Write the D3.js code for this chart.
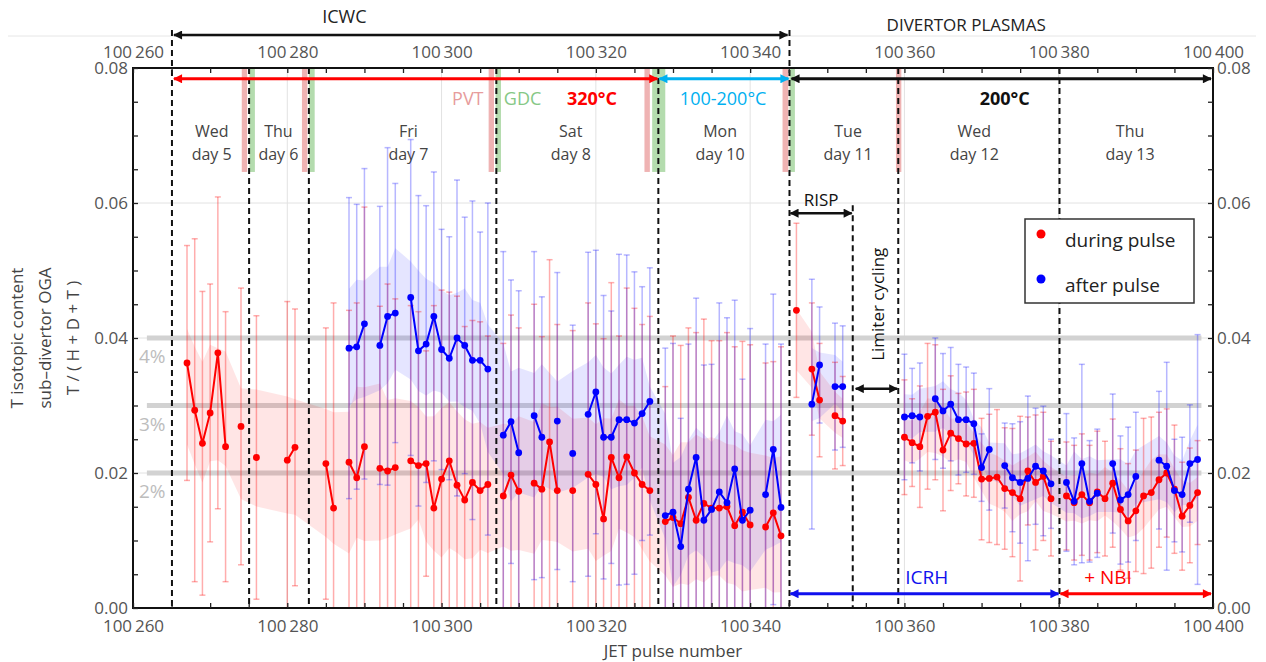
<!DOCTYPE html>
<html>
<head>
<meta charset="utf-8">
<script src="https://cdn.jsdelivr.net/npm/d3@7"></script>
<style>
  body { margin: 0; background: #fff; }
  svg { font-family: 'Open Sans', sans-serif; }
</style>
</head>
<body>
<svg id="chart" width="1266" height="662"></svg>
<script>
// T isotopic content, "during pulse" (red)
const duringPulse = [100267, 100268, 100269, 100270, 100271, 100272, 100274, 100276, 100280, 100281,
  100285, 100286, 100288, 100289, 100290, 100292, 100293, 100294, 100296, 100297, 100298, 100299,
  100300, 100301, 100302, 100303, 100304, 100305, 100306, 100308, 100309, 100310, 100312, 100313,
  100314, 100315, 100317, 100319, 100320, 100321, 100322, 100323, 100324, 100325, 100326, 100327,
  100329, 100330, 100331, 100332, 100333, 100334, 100335, 100336, 100337, 100338, 100339, 100340,
  100342, 100343, 100344, 100346, 100348, 100349, 100351, 100352, 100360, 100361, 100362, 100363,
  100364, 100365, 100366, 100367, 100368, 100369, 100370, 100371, 100372, 100373, 100374, 100375,
  100376, 100377, 100378, 100379, 100381, 100382, 100383, 100384, 100385, 100386, 100387, 100388,
  100389, 100390, 100391, 100392, 100393, 100394, 100395, 100396, 100397, 100398]
const duringT = [0.0363, 0.0293, 0.0244, 0.0289, 0.0378, 0.0239, 0.0269, 0.0223, 0.0219, 0.0238,
  0.0214, 0.0148, 0.0216, 0.0193, 0.0239, 0.0207, 0.0203, 0.0208, 0.0218, 0.0211, 0.0214, 0.0148,
  0.0191, 0.0218, 0.0182, 0.0160, 0.0186, 0.0174, 0.0183, 0.0166, 0.0197, 0.0173, 0.0185, 0.0176,
  0.0246, 0.0174, 0.0174, 0.0198, 0.0183, 0.0132, 0.0223, 0.0193, 0.0224, 0.0200, 0.0183, 0.0174,
  0.0128, 0.0134, 0.0125, 0.0164, 0.0130, 0.0155, 0.0148, 0.0148, 0.0150, 0.0122, 0.0142, 0.0123,
  0.0120, 0.0141, 0.0107, 0.0441, 0.0354, 0.0308, 0.0285, 0.0277, 0.0253, 0.0245, 0.0239, 0.0284,
  0.0290, 0.0234, 0.0259, 0.0251, 0.0243, 0.0244, 0.0191, 0.0192, 0.0194, 0.0177, 0.0171, 0.0162,
  0.0203, 0.0186, 0.0195, 0.0162, 0.0166, 0.0156, 0.0168, 0.0156, 0.0172, 0.0162, 0.0185, 0.0146,
  0.0129, 0.0144, 0.0166, 0.0171, 0.0190, 0.0200, 0.0176, 0.0136, 0.0152, 0.0171]
const duringErr = [0.0174, 0.0254, 0.0225, 0.0191, 0.0231, 0.0200, 0.0205, 0.0210, 0.0235, 0.0205,
  0.0201, 0.0304, 0.0225, 0.0259, 0.0355, 0.0240, 0.0277, 0.0250, 0.0230, 0.0228, 0.0167, 0.0300,
  0.0280, 0.0250, 0.0280, 0.0257, 0.0240, 0.0250, 0.0220, 0.0226, 0.0237, 0.0242, 0.0265, 0.0226,
  0.0270, 0.0246, 0.0237, 0.0254, 0.0238, 0.0267, 0.0259, 0.0210, 0.0250, 0.0244, 0.0237, 0.0258,
  0.0200, 0.0269, 0.0264, 0.0251, 0.0278, 0.0273, 0.0248, 0.0248, 0.0258, 0.0265, 0.0253, 0.0267,
  0.0243, 0.0224, 0.0280, 0.0129, 0.0098, 0.0084, 0.0079, 0.0066, 0.0085, 0.0065, 0.0090, 0.0108,
  0.0100, 0.0090, 0.0085, 0.0067, 0.0077, 0.0080, 0.0090, 0.0095, 0.0100, 0.0090, 0.0095, 0.0122,
  0.0080, 0.0100, 0.0095, 0.0085, 0.0080, 0.0085, 0.0090, 0.0085, 0.0090, 0.0085, 0.0095, 0.0090,
  0.0085, 0.0090, 0.0115, 0.0112, 0.0100, 0.0095, 0.0095, 0.0080, 0.0085, 0.0077]

// T isotopic content, "after pulse" (blue)
const afterPulse = [100288, 100289, 100290, 100292, 100293, 100294, 100296, 100297, 100298, 100299,
  100300, 100301, 100302, 100303, 100304, 100305, 100306, 100308, 100309, 100310, 100312, 100313,
  100315, 100317, 100319, 100320, 100321, 100322, 100323, 100324, 100325, 100326, 100327, 100329,
  100330, 100331, 100332, 100333, 100334, 100335, 100336, 100337, 100338, 100339, 100340, 100342,
  100343, 100344, 100348, 100349, 100351, 100352, 100360, 100361, 100362, 100364, 100365, 100366,
  100367, 100368, 100369, 100370, 100371, 100373, 100374, 100375, 100376, 100377, 100378, 100379,
  100381, 100382, 100383, 100384, 100385, 100387, 100388, 100389, 100390, 100393, 100394, 100395,
  100396, 100397, 100398]
const afterT = [0.0385, 0.0387, 0.0421, 0.0389, 0.0432, 0.0437, 0.0460, 0.0381, 0.0391, 0.0432,
  0.0383, 0.0370, 0.0400, 0.0389, 0.0367, 0.0367, 0.0354, 0.0256, 0.0276, 0.0230, 0.0285, 0.0253,
  0.0277, 0.0229, 0.0287, 0.0320, 0.0253, 0.0253, 0.0279, 0.0279, 0.0274, 0.0288, 0.0306, 0.0137,
  0.0142, 0.0091, 0.0176, 0.0223, 0.0130, 0.0146, 0.0172, 0.0156, 0.0206, 0.0130, 0.0145, 0.0168,
  0.0235, 0.0149, 0.0302, 0.0360, 0.0328, 0.0328, 0.0283, 0.0285, 0.0283, 0.0310, 0.0292, 0.0302,
  0.0279, 0.0279, 0.0273, 0.0208, 0.0235, 0.0211, 0.0193, 0.0186, 0.0192, 0.0210, 0.0203, 0.0184,
  0.0186, 0.0158, 0.0214, 0.0158, 0.0170, 0.0214, 0.0160, 0.0168, 0.0195, 0.0219, 0.0210, 0.0174,
  0.0168, 0.0214, 0.0220]
const afterErr = [0.0223, 0.0211, 0.0230, 0.0206, 0.0250, 0.0192, 0.0234, 0.0230, 0.0205, 0.0214,
  0.0178, 0.0180, 0.0234, 0.0190, 0.0236, 0.0190, 0.0246, 0.0272, 0.0210, 0.0240, 0.0243, 0.0208,
  0.0220, 0.0190, 0.0240, 0.0210, 0.0210, 0.0187, 0.0245, 0.0244, 0.0224, 0.0188, 0.0198, 0.0248,
  0.0250, 0.0190, 0.0215, 0.0236, 0.0230, 0.0215, 0.0280, 0.0274, 0.0250, 0.0209, 0.0269, 0.0223,
  0.0230, 0.0242, 0.0185, 0.0086, 0.0094, 0.0090, 0.0093, 0.0070, 0.0080, 0.0090, 0.0085, 0.0084,
  0.0082, 0.0078, 0.0075, 0.0050, 0.0090, 0.0063, 0.0080, 0.0090, 0.0122, 0.0086, 0.0096, 0.0066,
  0.0102, 0.0094, 0.0147, 0.0090, 0.0095, 0.0103, 0.0095, 0.0100, 0.0095, 0.0102, 0.0154, 0.0076,
  0.0085, 0.0087, 0.0185]

// day boundaries (pulse number) and annotations
const dayBounds = [100265.05, 100275.05, 100282.8, 100307.1, 100328.1, 100345.1, 100353.3, 100359.2, 100380.1]
const pvtBands = [[100274.1, 100274.8], [100281.9, 100282.6], [100306.1, 100306.8], [100326.3, 100327.0], [100344.2, 100344.95], [100358.9, 100359.6]]
const gdcBands = [[100275.1, 100275.8], [100282.8, 100283.55], [100307.0, 100307.7], [100327.3, 100329.0], [100345.1, 100345.8]]
const dayNames = ['Wed', 'Thu', 'Fri', 'Sat', 'Mon', 'Tue', 'Wed', 'Thu']
const dayNums = ['day 5', 'day 6', 'day 7', 'day 8', 'day 10', 'day 11', 'day 12', 'day 13']
const dayPos = [100270.2, 100278.85, 100295.7, 100316.75, 100336.1, 100352.7, 100369.05, 100389.25]
const refLevels = [0.04, 0.03, 0.02]
const refLabels = ['4%', '3%', '2%']
// the shaded spread is not carried across these pulse numbers
const bandBreaks = [100345.1, 100353.3]

const margin = { top: 68, left: 133, right: 53, bottom: 54 }
const width = 1266 - margin.left - margin.right
const height = 662 - margin.top - margin.bottom

const svg = d3.select('#chart')

const x = d3.scaleLinear().domain([100260, 100400]).range([margin.left, margin.left + width])
const y = d3.scaleLinear().domain([0, 0.08]).range([margin.top + height, margin.top])

const spaceFmt = d3.formatLocale({ decimal: '.', thousands: '\u2009', grouping: [3], currency: ['', ''] }).format(',')

const RED = '#ff0000'
const BLUE = '#0000ff'
const CYAN = '#00b0f0'

// markers
const defs = svg.append('defs')
const markerColors = { black: '#111', red: RED, blue: '#1010ee', cyan: CYAN }
Object.entries(markerColors).forEach(([k, c]) => {
  defs.append('marker')
    .attr('id', 'arr-' + k)
    .attr('viewBox', '0 0 10 10')
    .attr('refX', 9)
    .attr('refY', 5)
    .attr('markerUnits', 'userSpaceOnUse')
    .attr('markerWidth', 12)
    .attr('markerHeight', 9)
    .attr('orient', 'auto-start-reverse')
    .append('path')
    .attr('d', 'M0,0L10,5L0,10z')
    .attr('fill', c)
})
defs.append('clipPath').attr('id', 'plot-clip')
  .append('rect')
  .attr('x', margin.left).attr('y', margin.top)
  .attr('width', width).attr('height', height)

// thin separator line at top
svg.append('line')
  .attr('x1', 8).attr('x2', 1256).attr('y1', 36).attr('y2', 36)
  .attr('stroke', '#e6e6e6').attr('stroke-width', 1)

// grid
const grid = svg.append('g')
grid.selectAll('.gx')
  .data(d3.range(100280, 100400, 20))
  .enter().append('line')
  .attr('x1', d => x(d)).attr('x2', d => x(d))
  .attr('y1', margin.top).attr('y2', margin.top + height)
  .attr('stroke', '#e2e2e2')
grid.selectAll('.gy')
  .data([0.02, 0.04, 0.06])
  .enter().append('line')
  .attr('x1', margin.left).attr('x2', margin.left + width)
  .attr('y1', d => y(d)).attr('y2', d => y(d))
  .attr('stroke', '#e2e2e2')

// PVT / GDC strips
const stripBottom = 0.0646
svg.selectAll('.pvt')
  .data(pvtBands)
  .enter().append('rect')
  .attr('x', d => x(d[0])).attr('width', d => x(d[1]) - x(d[0]))
  .attr('y', margin.top).attr('height', y(stripBottom) - margin.top)
  .attr('fill', '#efb3b3')
svg.selectAll('.gdc')
  .data(gdcBands)
  .enter().append('rect')
  .attr('x', d => x(d[0])).attr('width', d => x(d[1]) - x(d[0]))
  .attr('y', margin.top).attr('height', y(stripBottom) - margin.top)
  .attr('fill', '#b4dcae')

// reference levels
svg.selectAll('.ref')
  .data(refLevels)
  .enter().append('line')
  .attr('x1', x(100261.8)).attr('x2', x(100398.5))
  .attr('y1', d => y(d)).attr('y2', d => y(d))
  .attr('stroke', '#d2d2d2').attr('stroke-width', 5)
svg.selectAll('.reflab')
  .data(refLevels)
  .enter().append('text')
  .attr('x', x(100262.5)).attr('y', d => y(d) + 25)
  .attr('text-anchor', 'middle')
  .attr('font-size', 19)
  .attr('fill', '#bdbdbd')
  .text((d, i) => refLabels[i])

function makePoints(pulses, vals, errs) {
  return pulses.map((p, i) => ({ p: p, v: vals[i], e: errs[i] }))
}
const during = makePoints(duringPulse, duringT, duringErr)
const after = makePoints(afterPulse, afterT, afterErr)

function splitRuns(pts, maxGap, breaks) {
  const runs = []
  pts.forEach((d, i) => {
    const prev = pts[i - 1]
    if (i === 0 || d.p - prev.p > maxGap ||
        (breaks || []).some(b => prev.p < b && d.p > b)) runs.push([])
    runs[runs.length - 1].push(d)
  })
  return runs
}

function bandOf(pts) {
  return splitRuns(pts, 6, bandBreaks).map(g => g.map((d, i) => {
    const w = g.slice(Math.max(0, i - 1), i + 2)
    const m = d3.mean(w, q => q.v)
    const h = 0.4 * d3.mean(w, q => q.e)
    return { p: d.p, lo: m - h, hi: m + h }
  }))
}

const plot = svg.append('g').attr('clip-path', 'url(#plot-clip)')

const area = d3.area()
  .x(d => x(d.p))
  .y0(d => y(d.lo))
  .y1(d => y(d.hi))

plot.selectAll('.band-red')
  .data(bandOf(during))
  .enter().append('path')
  .attr('d', area)
  .attr('fill', RED).attr('fill-opacity', 0.1)
plot.selectAll('.band-blue')
  .data(bandOf(after))
  .enter().append('path')
  .attr('d', area)
  .attr('fill', BLUE).attr('fill-opacity', 0.1)

function errorBars(pts, color, cls) {
  const g = plot.append('g')
    .attr('stroke', color).attr('stroke-opacity', 0.32).attr('stroke-width', 1.5)
  const bars = g.selectAll('.' + cls).data(pts).enter().append('g')
  bars.append('line')
    .attr('x1', d => x(d.p)).attr('x2', d => x(d.p))
    .attr('y1', d => y(d.v - d.e)).attr('y2', d => y(d.v + d.e))
  bars.append('line')
    .attr('x1', d => x(d.p) - 3).attr('x2', d => x(d.p) + 3)
    .attr('y1', d => y(d.v + d.e)).attr('y2', d => y(d.v + d.e))
  bars.append('line')
    .attr('x1', d => x(d.p) - 3).attr('x2', d => x(d.p) + 3)
    .attr('y1', d => y(d.v - d.e)).attr('y2', d => y(d.v - d.e))
}
errorBars(during, RED, 'eb-red')
errorBars(after, '#2020ff', 'eb-blue')

// day boundaries
const tall = [0, 5]
svg.selectAll('.bound')
  .data(dayBounds)
  .enter().append('line')
  .attr('x1', d => x(d)).attr('x2', d => x(d))
  .attr('y1', (d, i) => tall.includes(i) ? 30 : (i === 6 ? y(0.0585) - 8 : margin.top))
  .attr('y2', margin.top + height)
  .attr('stroke', '#111').attr('stroke-width', 2)
  .attr('stroke-dasharray', '6,4')

const line = d3.line().x(d => x(d.p)).y(d => y(d.v))

function series(pts, color) {
  const g = svg.append('g')
  g.selectAll('path')
    .data(splitRuns(pts, 1))
    .enter().append('path')
    .attr('d', line)
    .attr('fill', 'none')
    .attr('stroke', color).attr('stroke-width', 2)
  g.selectAll('circle')
    .data(pts)
    .enter().append('circle')
    .attr('cx', d => x(d.p)).attr('cy', d => y(d.v))
    .attr('r', 3.4)
    .attr('fill', color)
}
series(during, RED)
series(after, BLUE)

// frame
svg.append('rect')
  .attr('x', margin.left).attr('y', margin.top)
  .attr('width', width).attr('height', height)
  .attr('fill', 'none').attr('stroke', '#111').attr('stroke-width', 2)

// axes
const xTicks = d3.range(100260, 100401, 5)
const yTicks = d3.range(0, 0.08001, 0.005)
const xFmt = d => (d % 20 === 0 ? spaceFmt(d) : '')
const yFmt = d => (Math.abs(Math.round(d * 1000) % 20) === 0 ? d3.format('.2f')(d) : '')

function styleAxis(g) {
  g.select('.domain').remove()
  g.selectAll('.tick line').attr('stroke', '#222').attr('stroke-width', 1.3)
  g.selectAll('.tick text').attr('fill', '#555').attr('font-size', 17).attr('font-family', "'Open Sans', sans-serif")
}

svg.append('g')
  .attr('transform', `translate(0,${margin.top + height})`)
  .call(d3.axisBottom(x).tickValues(xTicks).tickFormat(xFmt).tickSizeInner(-5).tickSizeOuter(0).tickPadding(12))
  .call(styleAxis)
svg.append('g')
  .attr('transform', `translate(0,${margin.top})`)
  .call(d3.axisTop(x).tickValues(xTicks).tickFormat(xFmt).tickSizeInner(-5).tickSizeOuter(0).tickPadding(10))
  .call(styleAxis)
svg.append('g')
  .attr('transform', `translate(${margin.left},0)`)
  .call(d3.axisLeft(y).tickValues(yTicks).tickFormat(yFmt).tickSizeInner(-5).tickSizeOuter(0).tickPadding(5))
  .call(styleAxis)
svg.append('g')
  .attr('transform', `translate(${margin.left + width},0)`)
  .call(d3.axisRight(y).tickValues(yTicks).tickFormat(yFmt).tickSizeInner(-5).tickSizeOuter(0).tickPadding(4))
  .call(styleAxis)

// axis titles
svg.append('text')
  .attr('x', x(100330)).attr('y', 657)
  .attr('text-anchor', 'middle')
  .attr('font-size', 17).attr('fill', '#444')
  .text('JET pulse number')

const yTitle = ['T isotopic content', 'sub\u2013divertor OGA', 'T / ( H + D + T )']
svg.selectAll('.ytitle')
  .data(yTitle)
  .enter().append('text')
  .attr('transform', (d, i) => `translate(${23 + i * 28},${y(0.04)}) rotate(-90)`)
  .attr('text-anchor', 'middle')
  .attr('font-size', 17).attr('fill', '#444')
  .text(d => d)

// day labels
const days = svg.selectAll('.day')
  .data(dayPos)
  .enter().append('text')
  .attr('x', d => x(d))
  .attr('text-anchor', 'middle')
  .attr('font-size', 16).attr('fill', '#444')
days.append('tspan').attr('x', d => x(d)).attr('y', 137).text((d, i) => dayNames[i])
days.append('tspan').attr('x', d => x(d)).attr('y', 160).text((d, i) => dayNums[i])

// arrows
function arrow(x1, x2, yy, color, key, w) {
  svg.append('line')
    .attr('x1', x1).attr('x2', x2).attr('y1', yy).attr('y2', yy)
    .attr('stroke', color).attr('stroke-width', w || 2.5)
    .attr('marker-start', `url(#arr-${key})`)
    .attr('marker-end', `url(#arr-${key})`)
}
arrow(x(dayBounds[0]) + 2, x(dayBounds[5]) - 2, 35, '#111', 'black')
arrow(x(dayBounds[0]) + 2, x(dayBounds[4]) - 1, y(0.0784), RED, 'red', 3)
arrow(x(dayBounds[4]) + 1, x(dayBounds[5]) - 1, y(0.0784), CYAN, 'cyan', 3)
arrow(x(dayBounds[5]) + 2, x(100400) - 2, y(0.0784), '#111', 'black', 3)
arrow(x(dayBounds[5]) + 1, x(dayBounds[6]) - 1, y(0.0585), '#111', 'black')
arrow(x(dayBounds[6]) + 3, x(dayBounds[7]) - 1, y(0.0325), '#111', 'black')
arrow(x(dayBounds[5]) + 1, x(dayBounds[8]) - 1, y(0.0021), '#1010ee', 'blue', 3)
arrow(x(dayBounds[8]) + 1, x(100400) - 2, y(0.0021), RED, 'red', 3)

function label(txt, xx, yy, color, size, weight) {
  return svg.append('text')
    .attr('x', xx).attr('y', yy)
    .attr('text-anchor', 'middle')
    .attr('font-size', size).attr('fill', color)
    .attr('font-weight', weight || 'normal')
    .text(txt)
}
label('ICWC', x(100287.4), 23, '#222', 18)
label('DIVERTOR PLASMAS', x(100368.0), 31, '#222', 17)
label('PVT', x(100303.4), 105, '#e79c9c', 18)
label('GDC', x(100310.5), 105, '#86c886', 18)
label('320°C', x(100319.5), 105, RED, 18, 'bold')
label('100-200°C', x(100336.5), 105, CYAN, 18)
label('200°C', x(100373.0), 105, '#111', 18, 'bold')
label('RISP', x(100349.2), 206, '#111', 17)
label('ICRH', x(100362.9), 584, '#1010ee', 19)
label('+ NBI', x(100386.4), 584, RED, 19)
svg.append('text')
  .attr('transform', `translate(${x(100356.6) + 6},${y(0.045)}) rotate(-90)`)
  .attr('text-anchor', 'middle')
  .attr('font-size', 17).attr('fill', '#111')
  .text('Limiter cycling')

// legend
const legend = svg.append('g').attr('transform', 'translate(1025,219)')
legend.append('rect')
  .attr('width', 169).attr('height', 84)
  .attr('fill', '#fff').attr('stroke', '#333').attr('stroke-width', 1.5)
const legendItems = [['during pulse', RED], ['after pulse', BLUE]]
legendItems.forEach(([name, c], i) => {
  legend.append('circle').attr('cx', 16).attr('cy', 15 + i * 45).attr('r', 4.5).attr('fill', c)
  legend.append('text')
    .attr('x', 40).attr('y', 28 + i * 45)
    .attr('font-size', 19).attr('fill', '#222')
    .text(name)
})
</script>
</body>
</html>
